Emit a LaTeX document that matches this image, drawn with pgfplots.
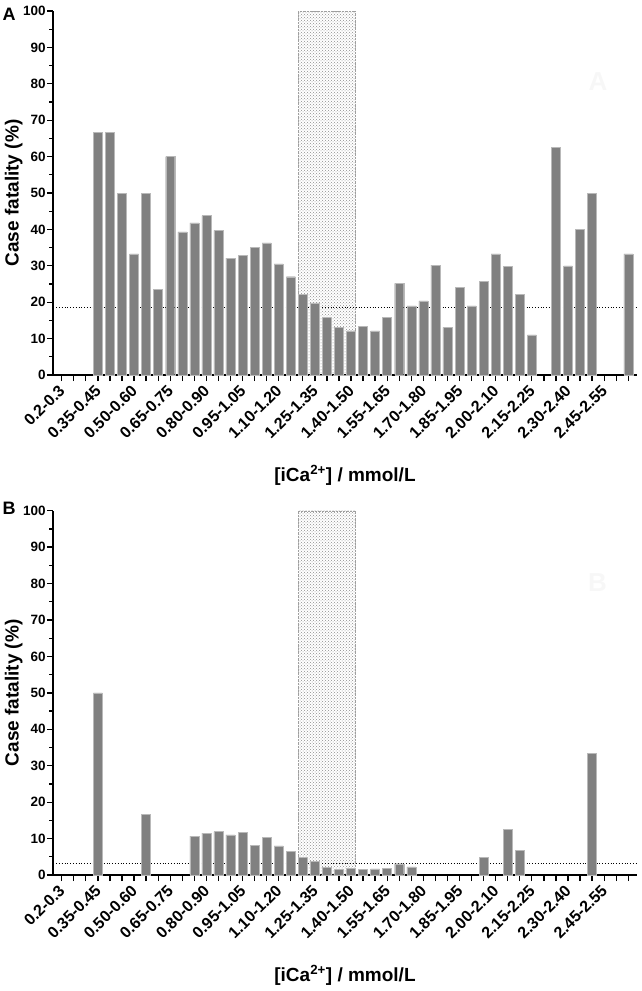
\documentclass[border=0pt]{standalone}
\usepackage{fontspec}
\setmainfont{Liberation Sans}
\usepackage{pgfplots}
\pgfplotsset{compat=1.18}
\usetikzlibrary{patterns}
\definecolor{barg}{HTML}{808080}

\pgfplotsset{
 panel/.style={
  scale only axis, width=583.4pt, height=364pt,
  xmin=-0.7, xmax=47.7, ymin=0, ymax=100,
  axis x line=bottom, axis y line=left,
  axis line style={-, line width=1.6pt},
  xtick={0,...,47},
  xticklabels={0.2-0.3,,,0.35-0.45,,,0.50-0.60,,,0.65-0.75,,,0.80-0.90,,,0.95-1.05,,,1.10-1.20,,,1.25-1.35,,,1.40-1.50,,,1.55-1.65,,,1.70-1.80,,,1.85-1.95,,,2.00-2.10,,,2.15-2.25,,,2.30-2.40,,,2.45-2.55,,},
  ytick={0,10,...,100}, minor y tick num=1,
  tick align=outside,
  major tick length=6pt, minor tick length=4pt,
  tick style={black, line width=1.3pt},
  /pgf/number format/assume math mode=true,
  yticklabel style={font=\bfseries\fontsize{13.5}{13.5}\selectfont, inner sep=1.5pt},
  xticklabel style={yshift=-6pt, xshift=1pt, font=\bfseries\fontsize{16}{16}\selectfont, rotate=45, anchor=east, inner sep=1pt},
  ylabel={Case fatality (\%)},
  ylabel style={font=\bfseries\fontsize{19}{19}\selectfont, at={(axis description cs:-0.068,0.5)}, anchor=center},
  xlabel={[iCa\textsuperscript{2+}] / mmol/L},
  xlabel style={font=\bfseries\fontsize{19}{19}\selectfont, at={(axis description cs:0.5,0)}, anchor=base, yshift=-106pt},
  clip=false,
 },
 region/.style={draw=gray!75, densely dotted, pattern=crosshatch dots, pattern color=gray!90, mark=none},
 bars/.style={ybar, bar width=0.746, bar shift=0pt, fill=barg, draw=gray!55, line width=0.4pt},
 refline/.style={black, dotted, line width=0.8pt, mark=none},
}

\begin{document}
\begin{tikzpicture}
\path[use as bounding box] (0pt,0pt) rectangle (641pt,-991pt);

% Panel A
\begin{axis}[panel, at={(53.3pt,-375pt)}, anchor=south west]
\addplot[region] coordinates {(19.627,0) (19.627,100) (24.373,100) (24.373,0)} -- cycle;
\addplot[refline] coordinates {(-0.7,18.5) (47.7,18.5)};
\addplot[bars] coordinates {
(3,66.7) (4,66.7) (5,50.0) (6,33.3) (7,50.0) (8,23.5) (9,60.0) (10,39.3)
(11,41.8) (12,43.8) (13,39.7) (14,32.1) (15,32.8) (16,35.0) (17,36.3) (18,30.5)
(19,27.0) (20,22.2) (21,19.8) (22,15.8) (23,13.0) (24,12.1) (25,13.3) (26,12.1)
(27,15.9) (28,25.2) (29,19.0) (30,20.4) (31,30.2) (32,13.1) (33,24.0) (34,19.0)
(35,25.7) (36,33.3) (37,29.9) (38,22.1) (39,11.0) (41,62.5) (42,30.0) (43,40.0)
(44,50.0) (47,33.3)
};
\end{axis}

% Panel B
\begin{axis}[panel, at={(53.3pt,-875pt)}, anchor=south west, height=364.3pt]
\addplot[region] coordinates {(19.627,0) (19.627,100) (24.373,100) (24.373,0)} -- cycle;
\addplot[refline] coordinates {(-0.7,3.3) (47.7,3.3)};
\addplot[bars] coordinates {
(3,50.0) (7,16.7) (11,10.7) (12,11.5) (13,11.9) (14,11.0) (15,11.7) (16,8.1)
(17,10.3) (18,8.0) (19,6.5) (20,4.9) (21,3.7) (22,2.1) (23,1.6) (24,1.8)
(25,1.6) (26,1.7) (27,1.9) (28,3.1) (29,2.2) (35,4.8) (37,12.5) (38,6.7)
(44,33.3)
};
\end{axis}

\node[font=\bfseries\fontsize{18}{18}\selectfont] at (9pt,-14pt) {A};
\node[font=\bfseries\fontsize{18}{18}\selectfont] at (9pt,-508pt) {B};
\node[font=\bfseries\fontsize{26}{26}\selectfont, text=black!3] at (598pt,-82pt) {A};
\node[font=\bfseries\fontsize{26}{26}\selectfont, text=black!3] at (597.5pt,-582.5pt) {B};
\end{tikzpicture}
\end{document}
